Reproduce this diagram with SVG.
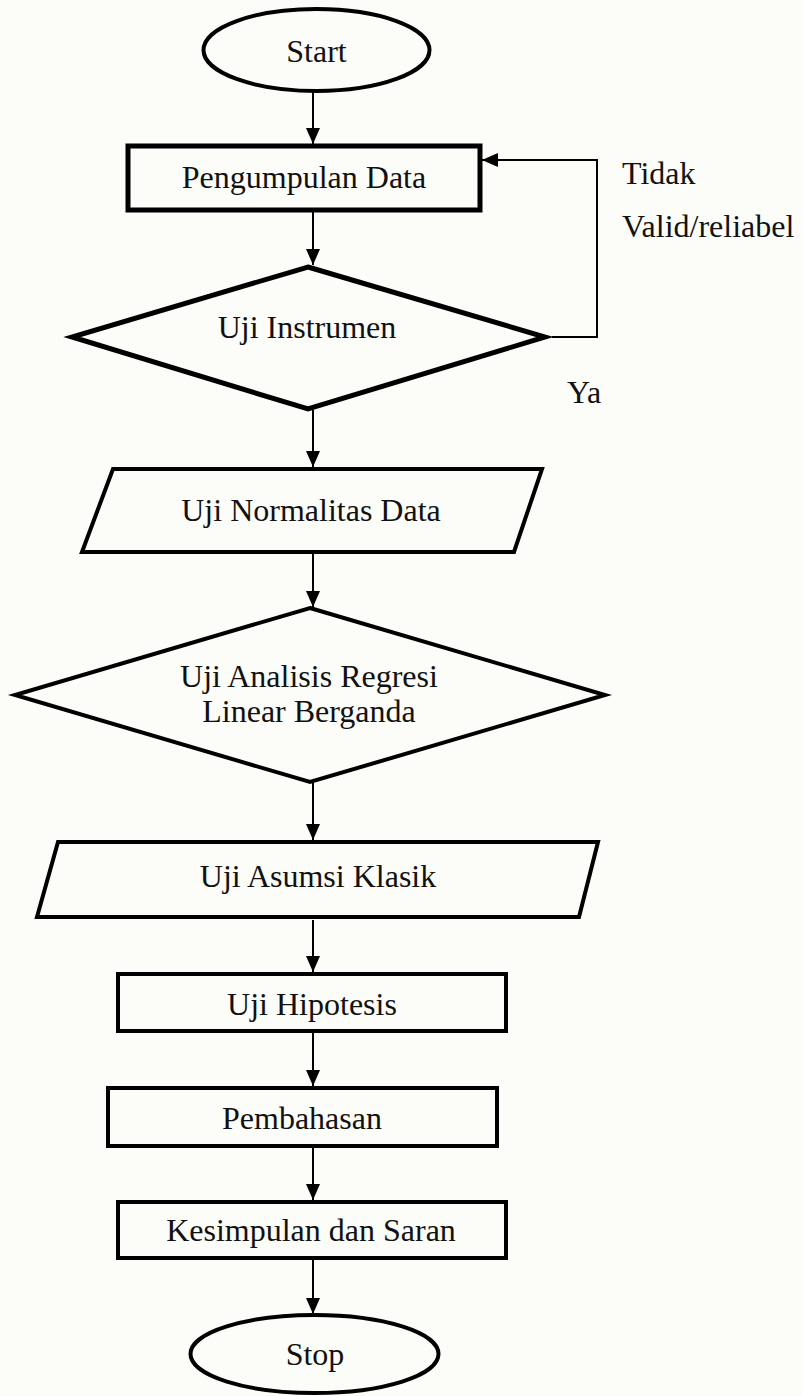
<svg xmlns="http://www.w3.org/2000/svg" width="802" height="1396" viewBox="0 0 802 1396">
<defs>
<marker id="ah" markerUnits="userSpaceOnUse" markerWidth="16" markerHeight="14" refX="16" refY="7" orient="auto">
<path d="M0,0 L16,7 L0,14 Z" fill="#000"/>
</marker>
<style>
.node{fill:none;stroke:#000;stroke-width:4;stroke-linejoin:miter}
.thick{stroke-width:5}
.conn{fill:none;stroke:#000;stroke-width:2}
text{font-family:"Liberation Serif","Times New Roman",serif;font-size:32px;fill:#111}
.c{text-anchor:middle}
</style>
</defs>
<rect x="0" y="0" width="802" height="1396" fill="#fcfcf8"/>
<g id="connectors">
<line class="conn" x1="313" y1="92" x2="313" y2="144" marker-end="url(#ah)"/>
<line class="conn" x1="313" y1="212" x2="313" y2="265" marker-end="url(#ah)"/>
<polyline class="conn" points="552,337 597,337 597,160 482,160" marker-end="url(#ah)"/>
<line class="conn" x1="313" y1="410" x2="313" y2="467" marker-end="url(#ah)"/>
<line class="conn" x1="313" y1="554" x2="313" y2="607" marker-end="url(#ah)"/>
<line class="conn" x1="313" y1="783" x2="313" y2="840" marker-end="url(#ah)"/>
<line class="conn" x1="313" y1="920" x2="313" y2="972" marker-end="url(#ah)"/>
<line class="conn" x1="313" y1="1033" x2="313" y2="1086" marker-end="url(#ah)"/>
<line class="conn" x1="313" y1="1148" x2="313" y2="1200" marker-end="url(#ah)"/>
<line class="conn" x1="313" y1="1260" x2="313" y2="1314" marker-end="url(#ah)"/>
</g>
<g id="start">
<ellipse class="node" cx="316.5" cy="50" rx="113" ry="41"/>
<text class="c" x="316.5" y="62">Start</text>
</g>
<g id="pengumpulan">
<rect class="node thick" x="128" y="146" width="352" height="64"/>
<text class="c" x="304" y="188">Pengumpulan Data</text>
</g>
<g id="uji-instrumen">
<polygon class="node thick" points="308,267 545,337 308,409 72,337"/>
<text class="c" x="307" y="338">Uji Instrumen</text>
</g>
<g id="label-tidak">
<text x="622" y="184">Tidak</text>
<text x="622" y="237">Valid/reliabel</text>
</g>
<g id="label-ya">
<text x="567" y="403">Ya</text>
</g>
<g id="uji-normalitas">
<polygon class="node" points="113,469 542,469 514,552 82,552"/>
<text class="c" x="311" y="521">Uji Normalitas Data</text>
</g>
<g id="uji-analisis">
<polygon class="node" points="310,608 605,695 310,782 15,695"/>
<text class="c" x="309" y="687">Uji Analisis Regresi</text>
<text class="c" x="309" y="722">Linear Berganda</text>
</g>
<g id="uji-asumsi">
<polygon class="node" points="58,842 598,842 579,917 37,917"/>
<text class="c" x="318" y="887">Uji Asumsi Klasik</text>
</g>
<g id="uji-hipotesis">
<rect class="node" x="118" y="974" width="388" height="57"/>
<text class="c" x="312" y="1015">Uji Hipotesis</text>
</g>
<g id="pembahasan">
<rect class="node" x="108" y="1088" width="389" height="58"/>
<text class="c" x="302" y="1129">Pembahasan</text>
</g>
<g id="kesimpulan">
<rect class="node" x="118" y="1202" width="388" height="56"/>
<text class="c" x="311" y="1241">Kesimpulan dan Saran</text>
</g>
<g id="stop">
<ellipse class="node" cx="314.5" cy="1354" rx="124" ry="39"/>
<text class="c" x="315" y="1365">Stop</text>
</g>
</svg>
